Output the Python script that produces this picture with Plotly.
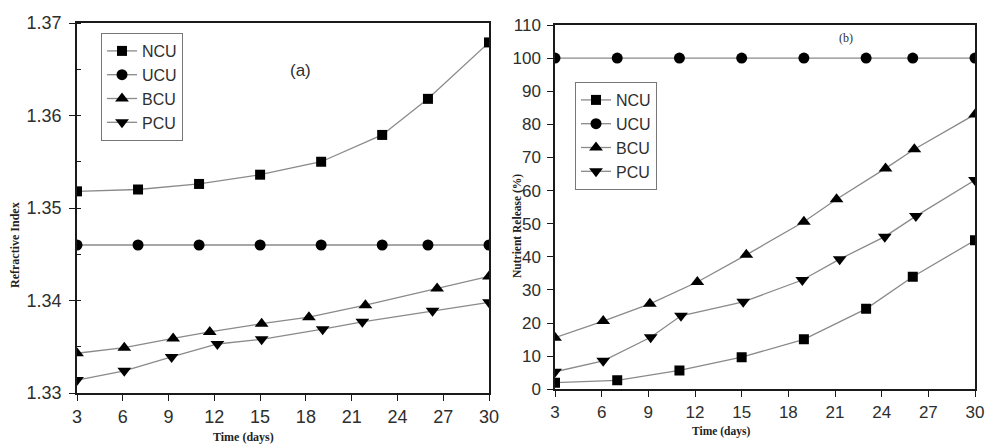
import plotly.graph_objects as go

# ---- Panel (a): Refractive Index ----
a_ncu_x = [3, 7, 11, 15, 19, 23, 26, 30]
a_ncu_y = [1.3518, 1.3520, 1.3526, 1.3536, 1.3550, 1.3579, 1.3618, 1.3679]
a_ucu_x = [3, 7, 11, 15, 19, 23, 26, 30]
a_ucu_y = [1.3460, 1.3460, 1.3460, 1.3460, 1.3460, 1.3460, 1.3460, 1.3460]
a_bcu_x = [3, 6.1, 9.3, 11.7, 15.1, 18.2, 21.9, 26.6, 30]
a_bcu_y = [1.3343, 1.3349, 1.3359, 1.3366, 1.3375, 1.3382, 1.3395, 1.3413, 1.3426]
a_pcu_x = [3, 6.1, 9.2, 12.2, 15.1, 19.1, 21.7, 26.3, 30]
a_pcu_y = [1.3314, 1.3324, 1.3339, 1.3353, 1.3358, 1.3369, 1.3377, 1.3389, 1.3398]

# ---- Panel (b): Nutrient Release (%) ----
b_ncu_x = [3, 7, 11, 15, 19, 23, 26, 30]
b_ncu_y = [2.0, 2.7, 5.7, 9.7, 15.1, 24.3, 34.0, 45.0]
b_ucu_x = [3, 7, 11, 15, 19, 23, 26, 30]
b_ucu_y = [100, 100, 100, 100, 100, 100, 100, 100]
b_bcu_x = [3, 6.1, 9.1, 12.15, 15.3, 19.0, 21.1, 24.25, 26.1, 30]
b_bcu_y = [15.6, 20.6, 25.8, 32.4, 40.6, 50.6, 57.4, 66.7, 72.5, 83.0]
b_pcu_x = [3, 6.1, 9.15, 11.1, 15.1, 18.9, 21.3, 24.2, 26.2, 30]
b_pcu_y = [5.3, 8.6, 15.7, 22.2, 26.4, 33.0, 39.3, 46.1, 52.3, 63.2]

names = ["NCU", "UCU", "BCU", "PCU"]
symbols = ["square", "circle", "triangle-up", "triangle-down"]
sizes = [10, 11, 12, 12]
x_ticks = [3, 6, 9, 12, 15, 18, 21, 24, 27, 30]

W, H = 987, 446
LINE = "#8a8a8a"
AX = "#1a1a1a"
TXT = "#2e2e2e"

fig = go.Figure()

a_series = [(a_ncu_x, a_ncu_y), (a_ucu_x, a_ucu_y), (a_bcu_x, a_bcu_y), (a_pcu_x, a_pcu_y)]
b_series = [(b_ncu_x, b_ncu_y), (b_ucu_x, b_ucu_y), (b_bcu_x, b_bcu_y), (b_pcu_x, b_pcu_y)]

for i, (xs, ys) in enumerate(a_series):
    fig.add_trace(go.Scatter(
        x=xs, y=ys, name=names[i], mode="lines+markers",
        line=dict(color=LINE, width=1.3),
        marker=dict(symbol=symbols[i], size=sizes[i], color="black"),
        xaxis="x", yaxis="y", legend="legend"))
for i, (xs, ys) in enumerate(b_series):
    fig.add_trace(go.Scatter(
        x=xs, y=ys, name=names[i], mode="lines+markers",
        line=dict(color=LINE, width=1.3),
        marker=dict(symbol=symbols[i], size=sizes[i], color="black"),
        xaxis="x2", yaxis="y2", legend="legend2"))

def px_x(p):
    return p / W

def px_y(p):
    return 1 - p / H

SANS = "Liberation Sans, Arial, sans-serif"
SERIF = "Liberation Serif, serif"
tickfont = dict(family=SANS, size=18, color=TXT)
tickfont_b = dict(family=SANS, size=17, color=TXT)

fig.update_layout(
    width=W, height=H,
    margin=dict(l=0, r=0, t=0, b=0, autoexpand=False),
    paper_bgcolor="white", plot_bgcolor="white",
    xaxis=dict(domain=[px_x(77), px_x(489)], range=[3, 30], tickvals=x_ticks,
               ticks="outside", ticklen=6, tickcolor=AX, tickwidth=1.2,
               ticklabelstandoff=1, automargin=False,
               showline=True, linecolor=AX, linewidth=1.5, mirror=True,
               showgrid=False, zeroline=False, tickfont=tickfont, anchor="y"),
    yaxis=dict(domain=[px_y(393), px_y(23)], range=[1.33, 1.37],
               tickvals=[1.33, 1.34, 1.35, 1.36, 1.37],
               ticktext=["1.33", "1.34", "1.35", "1.36", "1.37"],
               ticks="outside", ticklen=6, tickcolor=AX, tickwidth=1.2,
               ticklabelstandoff=4, automargin=False,
               minor=dict(ticks="inside", dtick=0.005, ticklen=4, tickcolor=AX, showgrid=False),
               showline=True, linecolor=AX, linewidth=1.5, mirror=True,
               showgrid=False, zeroline=False, tickfont=tickfont, anchor="x"),
    xaxis2=dict(domain=[px_x(555), px_x(975)], range=[3, 30], tickvals=x_ticks,
                ticks="outside", ticklen=6, tickcolor=AX, tickwidth=1.2,
                ticklabelstandoff=1, automargin=False,
                showline=True, linecolor=AX, linewidth=1.5, mirror=True,
                showgrid=False, zeroline=False, tickfont=tickfont_b, anchor="y2"),
    yaxis2=dict(domain=[px_y(389.3), px_y(25)], range=[0, 110], dtick=10, tick0=0,
                ticks="outside", ticklen=6, tickcolor=AX, tickwidth=1.2,
                ticklabelstandoff=3, automargin=False,
                showline=True, linecolor=AX, linewidth=1.5, mirror=True,
                showgrid=False, zeroline=False, tickfont=tickfont_b, anchor="x2"),
    legend=dict(x=px_x(101), y=px_y(33), xanchor="left", yanchor="top",
                bordercolor="#777", borderwidth=1, bgcolor="white",
                font=dict(family=SANS, size=16, color=TXT),
                tracegroupgap=0, itemwidth=30),
    legend2=dict(x=px_x(575), y=px_y(82), xanchor="left", yanchor="top",
                 bordercolor="#777", borderwidth=1, bgcolor="white",
                 font=dict(family=SANS, size=16, color=TXT),
                 tracegroupgap=0, itemwidth=30),
    annotations=[
        dict(text="(a)", x=px_x(300), y=px_y(70), xref="paper", yref="paper",
             xanchor="center", yanchor="middle",
             showarrow=False, font=dict(family=SANS, size=17, color=TXT)),
        dict(text="(b)", x=px_x(846), y=px_y(38), xref="paper", yref="paper",
             xanchor="center", yanchor="middle",
             showarrow=False, font=dict(family=SERIF, size=12, color=TXT)),
        dict(text="<b>Refractive Index</b>", x=px_x(15), y=px_y(245), xref="paper", yref="paper",
             xanchor="center", yanchor="middle",
             showarrow=False, textangle=-90,
             font=dict(family=SERIF, size=12, color="#222")),
        dict(text="<b>Nutrient Release (%)</b>", x=px_x(517), y=px_y(226), xref="paper", yref="paper",
             xanchor="center", yanchor="middle",
             showarrow=False, textangle=-90,
             font=dict(family=SERIF, size=11.5, color="#222")),
        dict(text="<b>Time (days)</b>", x=px_x(243), y=px_y(437), xref="paper", yref="paper",
             xanchor="center", yanchor="middle",
             showarrow=False, font=dict(family=SERIF, size=12, color="#222")),
        dict(text="<b>Time (days)</b>", x=px_x(721), y=px_y(431), xref="paper", yref="paper",
             xanchor="center", yanchor="middle",
             showarrow=False, font=dict(family=SERIF, size=11.5, color="#222")),
    ],
)

fig.write_html("out.html")
